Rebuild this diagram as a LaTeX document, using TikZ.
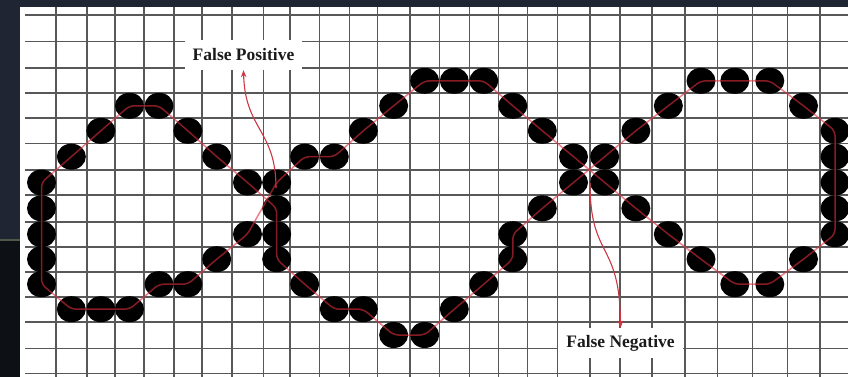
\documentclass[tikz,border=0pt]{standalone}
\usepackage{fontspec}
\setmainfont{Liberation Serif}
\usetikzlibrary{arrows.meta}
\definecolor{navyband}{RGB}{31,37,51}
\definecolor{darkband}{RGB}{13,16,20}
\definecolor{sepcol}{RGB}{78,88,72}
\definecolor{gridcol}{RGB}{88,88,88}
\definecolor{curvecol}{RGB}{225,45,60}
\definecolor{arrowcol}{RGB}{205,55,65}
\definecolor{labelcol}{RGB}{26,26,26}
\tikzset{
  gridline/.style={draw=gridcol, line width=1.6pt},
  dotfill/.style={fill=black},
  curveline/.style={draw=curvecol, line width=1.5pt, draw opacity=0.6, rounded corners=5pt},
  notearrow/.style={draw=arrowcol, line width=1.1pt, -{Stealth[length=7pt,width=5.5pt]}},
  labelbox/.style={fill=white, inner sep=0pt, text=labelcol,
    font=\fontsize{17.5}{20}\selectfont\bfseries}
}
\begin{document}
\begin{tikzpicture}[x=1pt,y=-1pt]
\useasboundingbox (0,0) rectangle (848,377);
% frame
\fill[navyband] (0,0) rectangle (848,377);
\fill[darkband] (0,241) rectangle (20,377);
\draw[sepcol, line width=1.2pt] (0,240) -- (20,240);
\fill[white] (20,7) rectangle (848,377);
% grid
\foreach \y in {15,41.7,68.3,93.3,118.3,143.3,170,195,221.7,246.7,271.7,296.7,321.7,348.3,373.3}
  \draw[gridline] (25,\y) -- (848,\y);
\foreach \x in {56,86.7,115,144,174,201.7,231.7,263.3,290,319.3,349.3,377.3,410,439.3,469.3,498.3,527.3,557.3,589.7,619.7,652,684.7,717.3,752.3,787.3,819.7}
  \draw[gridline] (\x,7) -- (\x,377);
% labels
\node[labelbox, minimum width=117pt, minimum height=30pt] (fp) at (243.5,55) {False Positive};
\node[labelbox, minimum width=125pt, minimum height=30pt] (fn) at (620.5,343) {False Negative};
% dot coordinates
\def\colx{{41.5,71.35,100.85,129.5,159,187.85,216.7,247.5,276.65,304.65,334.3,363.3,393.65,424.65,454.3,483.8,512.8,542.3,573.5,604.7,635.85,668.35,701,734.8,769.8,803.5,835}}
\def\rowy{{28.35,55,80.8,105.8,130.8,156.65,182.5,208.35,234.2,259.2,284.2,309.2,335,360.8}}
\foreach \k/\r in {0/6,0/7,0/8,0/9,0/10,1/5,2/4,3/3,4/3,5/4,6/5,7/6,8/6,8/7,7/8,8/8,8/9,6/9,5/10,4/10,3/11,2/11,1/11,
  9/5,10/5,11/4,12/3,13/2,14/2,15/2,16/3,17/4,18/5,19/5,18/6,19/6,20/4,21/3,22/2,23/2,24/2,25/3,
  26/4,26/5,26/6,26/7,26/8,25/9,24/10,23/10,22/9,21/8,20/7,17/7,16/8,16/9,15/10,14/11,13/12,12/12,11/11,10/11,9/10}{
  \pgfmathsetmacro\xx{\colx[\k]}
  \pgfmathsetmacro\yy{\rowy[\r]}
  \coordinate (d\k-\r) at (\xx,\yy);
  \fill[dotfill] (\xx,\yy) ellipse [x radius=14.5pt, y radius=13pt];
}
% red curve
\draw[curveline]
 (d9-10) -- (d10-11) -- (d11-11) -- (d12-12) -- (d13-12) -- (d14-11) -- (d15-10) -- (d16-9) -- (d16-8) -- (d17-7)
 -- (d18-6) -- (d19-5) -- (d20-4) -- (d21-3) -- (d22-2) -- (d23-2) -- (d24-2) -- (d25-3) -- (d26-4) -- (d26-5) -- (d26-6)
 -- (d26-7) -- (d26-8) -- (d25-9) -- (d24-10) -- (d23-10) -- (d22-9) -- (d21-8) -- (d20-7) -- (d19-6) -- (d18-5) -- (d17-4)
 -- (d16-3) -- (d15-2) -- (d14-2) -- (d13-2) -- (d12-3) -- (d11-4) -- (d10-5) -- (d9-5) -- (d8-6) -- (d7-8) -- (d6-9)
 -- (d5-10) -- (d4-10) -- (d3-11) -- (d2-11) -- (d1-11) -- (d0-10) -- (d0-9) -- (d0-8) -- (d0-7) -- (d0-6) -- (d1-5)
 -- (d2-4) -- (d3-3) -- (d4-3) -- (d5-4) -- (d6-5) -- (d7-6) -- (d8-7) -- (d8-8) -- (d8-9) -- cycle;
% arrows
\coordinate (fpfoot) at (276,188);
\coordinate (fnfoot) at (590,183);
\draw[notearrow] (fpfoot) .. controls (276,130) and (245,130) .. (fp.south);
\draw[notearrow] (fnfoot) .. controls (590,260) and (620,240) .. (fn.north);
\end{tikzpicture}
\end{document}
